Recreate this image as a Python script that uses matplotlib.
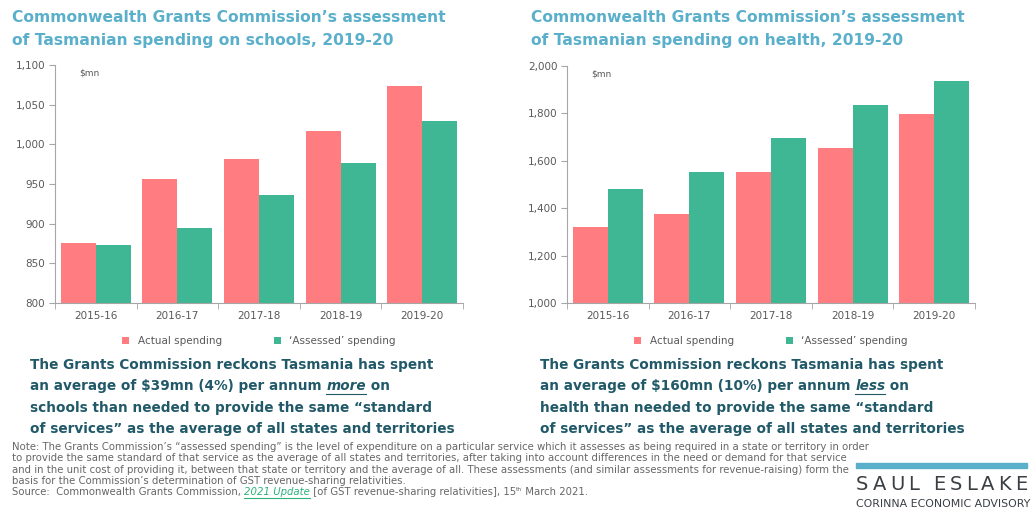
import matplotlib.pyplot as plt
import numpy as np

# Data ($mn)
years = ['2015-16', '2016-17', '2017-18', '2018-19', '2019-20']
schools_actual = [876, 956, 981, 1017, 1073]
schools_assessed = [873, 895, 936, 976, 1030]
health_actual = [1319, 1376, 1553, 1656, 1797]
health_assessed = [1479, 1554, 1698, 1836, 1938]

schools_ticks = [800, 850, 900, 950, 1000, 1050, 1100]
health_ticks = [1000, 1200, 1400, 1600, 1800, 2000]

PINK = '#FF7C80'
GREEN = '#40B794'
TITLE_BLUE = '#5AAFCB'
BODY_TEAL = '#215968'
GREY = '#595959'
AXIS_GREY = '#A6A6A6'

W, H = 1036, 516
fig = plt.figure(figsize=(W / 100, H / 100), dpi=100)
fig.patch.set_facecolor('white')


def px(x, y):
    # pixel coords (from top-left) -> figure fraction
    return x / W, 1 - y / H


def bar_panel(rect, actual, assessed, ticks):
    ax = fig.add_axes(rect)
    x = np.arange(len(years))
    w = 0.43
    ax.bar(x - w / 2, actual, w, color=PINK, label='Actual spending')
    ax.bar(x + w / 2, assessed, w, color=GREEN, label='\u2018Assessed\u2019 spending')
    ax.set_xlim(-0.5, len(years) - 0.5)
    ax.set_ylim(ticks[0], ticks[-1])
    ax.set_yticks(ticks)
    ax.set_yticklabels([f'{t:,}' for t in ticks])
    ax.set_xticks(x)
    ax.set_xticklabels(years)
    ax.set_xticks(np.arange(-0.5, len(years)), minor=True)
    ax.tick_params(axis='x', which='major', length=0, pad=6)
    ax.tick_params(axis='x', which='minor', length=4, color=AXIS_GREY)
    ax.tick_params(axis='y', length=4, color=AXIS_GREY, pad=3)
    ax.tick_params(labelsize=7.5, labelcolor=GREY)
    for s in ['top', 'right']:
        ax.spines[s].set_visible(False)
    for s in ['left', 'bottom']:
        ax.spines[s].set_color(AXIS_GREY)
    ax.text(0.06, 0.985, '$mn', transform=ax.transAxes, fontsize=6.5,
            color=GREY, va='top')
    ax.legend(loc='upper center', bbox_to_anchor=(0.5, -0.1), ncol=2,
              frameon=False, handlelength=0.7, handleheight=0.7,
              columnspacing=5, fontsize=7.5, labelcolor=GREY)
    return ax


bar_panel([55 / W, 1 - 303 / H, 408 / W, 238 / H],
          schools_actual, schools_assessed, schools_ticks)
bar_panel([567 / W, 1 - 303 / H, 408 / W, 237 / H],
          health_actual, health_assessed, health_ticks)

renderer = fig.canvas.get_renderer()


def draw_line(x, y, segments, size, color, weight='normal', va='center'):
    # draw text pieces one after the other on one line (pixel coords)
    for seg in segments:
        txt, style = seg
        kw = dict(fontsize=size, color=color, fontweight=weight, va=va, ha='left')
        yy = y
        if 'italic' in style:
            kw['fontstyle'] = 'italic'
        if 'green' in style:
            kw['color'] = '#2DB37A'
        if 'sup' in style:
            kw['fontsize'] = size * 0.6
            yy = y - size * 0.35
        t = fig.text(*px(x, yy), txt, **kw)
        bb = t.get_window_extent(renderer)
        if 'under' in style:
            uy = y + size * 0.75
            fig.add_artist(plt.Line2D([x / W, (x + bb.width) / W],
                                      [1 - uy / H, 1 - uy / H],
                                      color=kw['color'], lw=0.8))
        x += bb.width
    return x


# Titles
for xo, topic in [(12, 'schools'), (531, 'health')]:
    fig.text(*px(xo, 18), 'Commonwealth Grants Commission\u2019s assessment',
             fontsize=11.2, fontweight='bold', color=TITLE_BLUE, va='center')
    fig.text(*px(xo, 41), f'of Tasmanian spending on {topic}, 2019-20',
             fontsize=11.2, fontweight='bold', color=TITLE_BLUE, va='center')

# Commentary text under each chart
body_left = [
    [('The Grants Commission reckons Tasmania has spent', '')],
    [('an average of $39mn (4%) per annum ', ''), ('more', 'italic under'), (' on', '')],
    [('schools than needed to provide the same \u201cstandard', '')],
    [('of services\u201d as the average of all states and territories', '')],
]
body_right = [
    [('The Grants Commission reckons Tasmania has spent', '')],
    [('an average of $160mn (10%) per annum ', ''), ('less', 'italic under'), (' on', '')],
    [('health than needed to provide the same \u201cstandard', '')],
    [('of services\u201d as the average of all states and territories', '')],
]
for xo, lines in [(30, body_left), (540, body_right)]:
    for i, segs in enumerate(lines):
        draw_line(xo, 365 + i * 21.3, segs, 9.8, BODY_TEAL, weight='bold')

# Footnote
note = [
    [('Note: The Grants Commission\u2019s \u201cassessed spending\u201d is the level of expenditure on a particular service which it assesses as being required in a state or territory in order', '')],
    [('to provide the same standard of that service as the average of all states and territories, after taking into account differences in the need or demand for that service', '')],
    [('and in the unit cost of providing it, between that state or territory and the average of all. These assessments (and similar assessments for revenue-raising) form the', '')],
    [('basis for the Commission\u2019s determination of GST revenue-sharing relativities.', '')],
    [('Source:  Commonwealth Grants Commission, ', ''), ('2021 Update', 'italic under green'),
     (' [of GST revenue-sharing relativities], 15', ''), ('th', 'sup'), (' March 2021.', '')],
]
for i, segs in enumerate(note):
    draw_line(12, 447 + i * 11.3, segs, 7.25, '#666666')

# Logo block
fig.add_artist(plt.Rectangle((856 / W, 1 - 468 / H), 171 / W, 5 / H,
                             color='#5AAFCB', transform=fig.transFigure))
letters = 'SAUL ESLAKE'
widths = []
for ch in letters:
    t = fig.text(0, 0, ch, fontsize=14, fontfamily='DejaVu Sans')
    widths.append(t.get_window_extent(renderer).width if ch != ' ' else 6)
    t.remove()
gap = (171 - sum(widths)) / (len(letters) - 1)
lx = 856
for ch, wd in zip(letters, widths):
    if ch != ' ':
        fig.text(*px(lx, 484), ch, fontsize=14, color='#3A3F44',
                 va='center', ha='left')
    lx += wd + gap
fig.text(*px(856, 504), 'CORINNA ECONOMIC ADVISORY', fontsize=7.9,
         color='#3A3F44', va='center', ha='left')

fig.savefig('out.png', dpi=100, facecolor='white')
